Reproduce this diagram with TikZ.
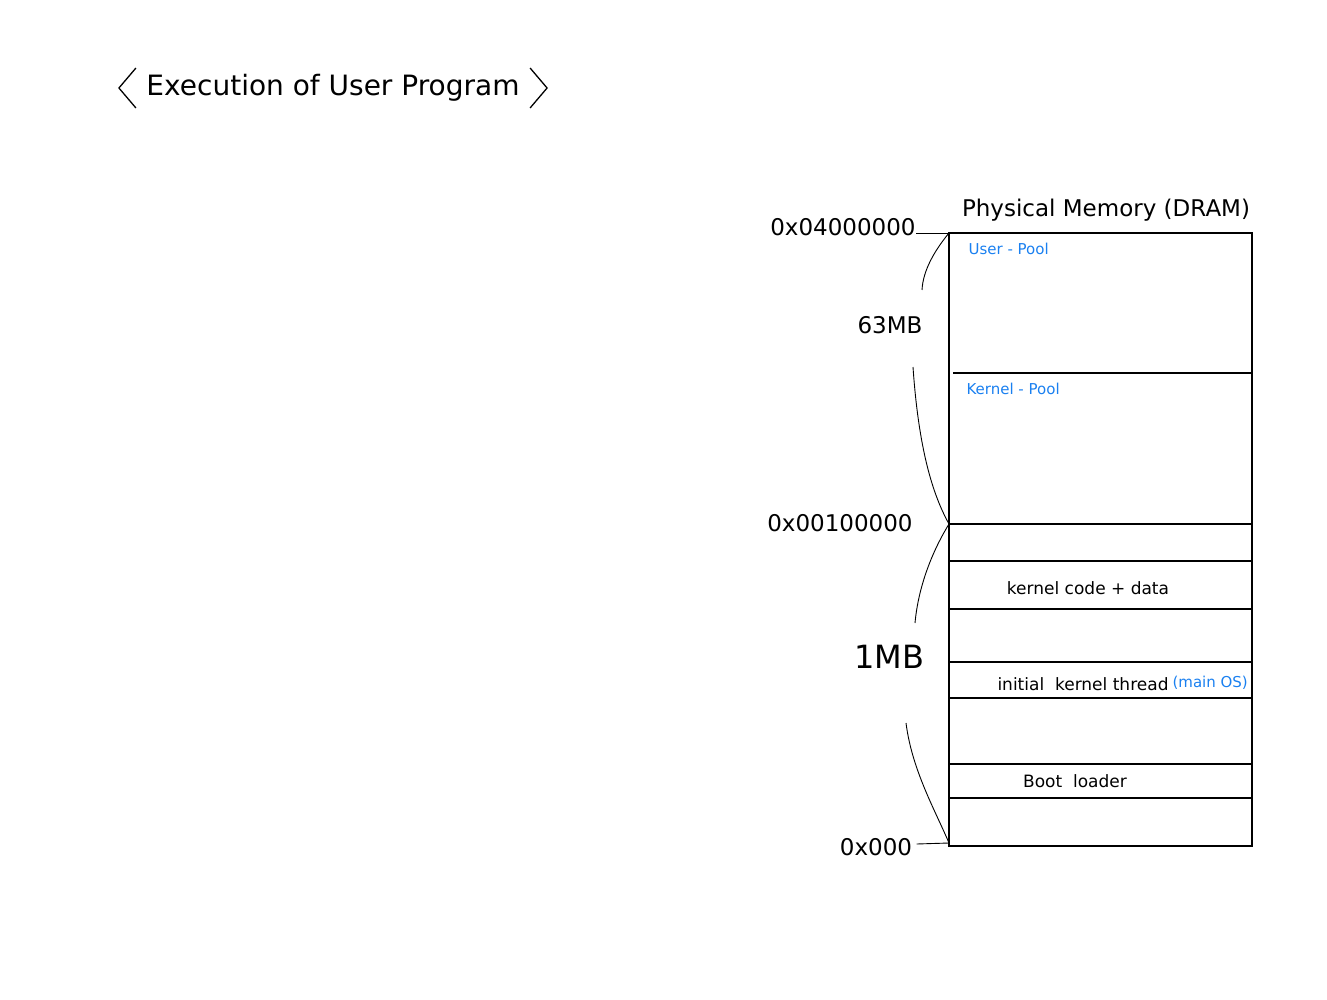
\documentclass[tikz,border=0pt]{standalone}
\usepackage{fontspec}
\setmainfont{DejaVu Sans}
\definecolor{hblue}{HTML}{1A80F0}
\begin{document}
\begin{tikzpicture}[x=1pt,y=-1pt,
  lab/.style={inner sep=0pt,font=\fontsize{17}{19}\selectfont},
  blab/.style={inner sep=0pt,font=\fontsize{15}{17}\selectfont,text=hblue},
  addr/.style={inner sep=0pt,font=\fontsize{23}{25}\selectfont},
  brace/.style={line width=0.9pt},
  line width=1.1pt]
\useasboundingbox (0,0) rectangle (1327,1000);
\node[inner sep=0pt,font=\fontsize{28}{32}\selectfont] (title) at (333,88) {Execution of User Program};
\draw[line width=1.3pt,line join=round] (title.west) ++(-10,-20) -- ++(-17,20) -- ++(17,20);
\draw[line width=1.3pt,line join=round] (title.east) ++(10,-20) -- ++(17,20) -- ++(-17,20);
\node[inner sep=0pt,font=\fontsize{23}{26}\selectfont] (phys) at (1106,210) {Physical Memory (DRAM)};
\draw (949,233) rectangle (1252,846);
\coordinate (top) at (949,233);
\coordinate (mid) at (949,524);
\coordinate (bot) at (949,843);
\foreach \y in {524,561,609,662,698,764,798} \draw (949,\y) -- (1252,\y);
\draw (953,373) -- (1252,373);
\node[blab,anchor=west] (up) at (968,249) {User - Pool};
\node[blab,anchor=west] (kp) at (966,389) {Kernel - Pool};
\node[lab] (kcd) at (1088,588) {kernel code + data};
\node[lab] (ikt) at (1083,684) {initial\ \ kernel thread};
\node[blab,anchor=west] (mos) at (1172,683) {(main OS)};
\node[lab] (bl) at (1075,781) {Boot\ \ loader};
\node[addr] (a1) at (843,227) {0x04000000};
\node[addr] (a2) at (840,523) {0x00100000};
\node[addr] (a3) at (876,847) {0x000};
\draw[brace] (a1.east) ++(0,6) -- (top);
\draw[brace] (a3.east) ++(4,-3) -- (bot);
\node[addr] (m63) at (890,325) {63MB};
\node[inner sep=0pt,font=\fontsize{32}{34}\selectfont] (m1) at (889,657) {1MB};
\coordinate (c1) at (922,290);
\coordinate (c2) at (913,367);
\coordinate (c3) at (915,623);
\coordinate (c4) at (906,723);
\draw[brace] (top) .. controls (935,250) and (923,270) .. (c1);
\draw[brace] (c2) .. controls (918,440) and (930,490) .. (mid);
\draw[brace] (mid) .. controls (930,555) and (918,590) .. (c3);
\draw[brace] (c4) .. controls (912,770) and (935,810) .. (bot);
\end{tikzpicture}
\end{document}
